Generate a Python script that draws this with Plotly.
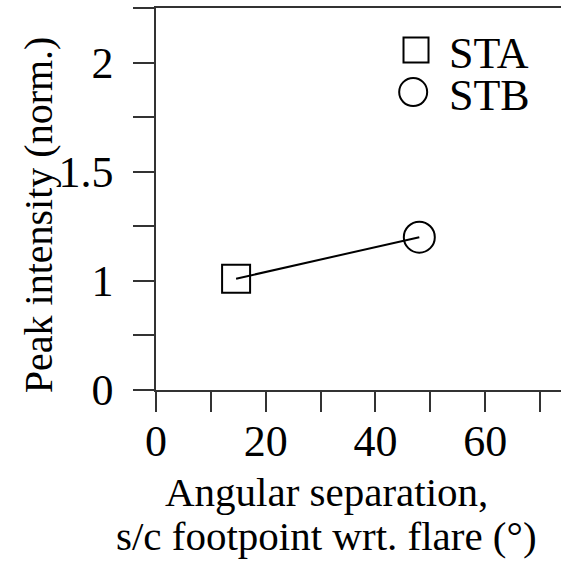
import plotly.graph_objects as go

# Data
series_names = ["STA", "STB"]
angular_sep = [14.6, 48.0]
peak_intensity = [1.01, 1.20]
series_symbols = ["square-open", "circle-open"]
series_sizes = [28, 31]

x_tickvals = [0, 10, 20, 30, 40, 50, 60, 70]
x_ticktext = ["0", "", "20", "", "40", "", "60", ""]
y_tickvals = [0.5, 0.75, 1.0, 1.25, 1.5, 1.75, 2.0, 2.25]
y_ticktext = ["0", "", "1", "", "1.5", "", "2", ""]

x_title_lines = ["Angular separation,", "s/c footpoint wrt. flare (°)"]
y_title = "Peak intensity (norm.)"

FONT = "Liberation Serif, Times New Roman, serif"
AX = "#333333"

fig = go.Figure()

# data markers
for name, x, y, sym, sz in zip(series_names, angular_sep, peak_intensity, series_symbols, series_sizes):
    fig.add_trace(go.Scatter(
        x=[x], y=[y], mode="markers", name=name, showlegend=False,
        marker=dict(symbol=sym, size=sz, color="black", line=dict(width=2, color="black")),
    ))
# connecting line
fig.add_trace(go.Scatter(
    x=angular_sep, y=peak_intensity, mode="lines", showlegend=False,
    line=dict(color="black", width=2),
))

# manual legend symbols on an overlay axis
legend_pos = [(0.642, 0.890), (0.635, 0.780)]
for (lx, ly), sym, sz, name in zip(legend_pos, series_symbols, series_sizes, series_names):
    fig.add_trace(go.Scatter(
        x=[lx], y=[ly], xaxis="x2", yaxis="y2", mode="markers", showlegend=False,
        marker=dict(symbol=sym, size=sz - 3, color="black", line=dict(width=2, color="black")),
        hoverinfo="skip",
    ))
    fig.add_annotation(x=0.7185, y=ly - 0.008, xref="paper", yref="paper", text=name,
                       showarrow=False, xanchor="left", yanchor="middle",
                       font=dict(family=FONT, size=44, color="black"))

fig.update_layout(
    width=561, height=564,
    margin=dict(l=156, r=0, t=8, b=174),
    plot_bgcolor="white", paper_bgcolor="white",
    font=dict(family=FONT, size=40, color="black"),
    xaxis=dict(
        range=[0, 73.83], tickmode="array", tickvals=x_tickvals, ticktext=x_ticktext,
        ticks="outside", ticklen=20, tickwidth=1.5, tickcolor=AX,
        showline=True, linecolor=AX, linewidth=1.5, mirror=True,
        showgrid=False, zeroline=False, ticklabelstandoff=-9,
        tickfont=dict(family=FONT, size=44, color="black"),
    ),
    yaxis=dict(
        range=[0.5, 2.25], tickmode="array", tickvals=y_tickvals, ticktext=y_ticktext,
        ticks="outside", ticklen=21, tickwidth=1.5, tickcolor=AX,
        showline=True, linecolor=AX, linewidth=1.5, mirror=False,
        showgrid=False, zeroline=False, ticklabelstandoff=11,
        tickfont=dict(family=FONT, size=44, color="black"),
    ),
    xaxis2=dict(range=[0, 1], overlaying="x", visible=False, anchor="y2"),
    yaxis2=dict(range=[0, 1], overlaying="y", visible=False, anchor="x2"),
    showlegend=False,
)

fig.add_annotation(x=-0.291, y=0.458, xref="paper", yref="paper",
                   text=y_title, textangle=-90, showarrow=False,
                   xanchor="center", yanchor="middle",
                   font=dict(family=FONT, size=40, color="black"))
for txt, yy in zip(x_title_lines, [-0.268, -0.382]):
    fig.add_annotation(x=0.422, y=yy, xref="paper", yref="paper",
                       text=txt, showarrow=False, xanchor="center", yanchor="middle",
                       font=dict(family=FONT, size=41, color="black"))

fig.write_html("out.html", config={"displayModeBar": False},
               post_script="document.body.style.margin='0';document.body.style.overflow='hidden';")
